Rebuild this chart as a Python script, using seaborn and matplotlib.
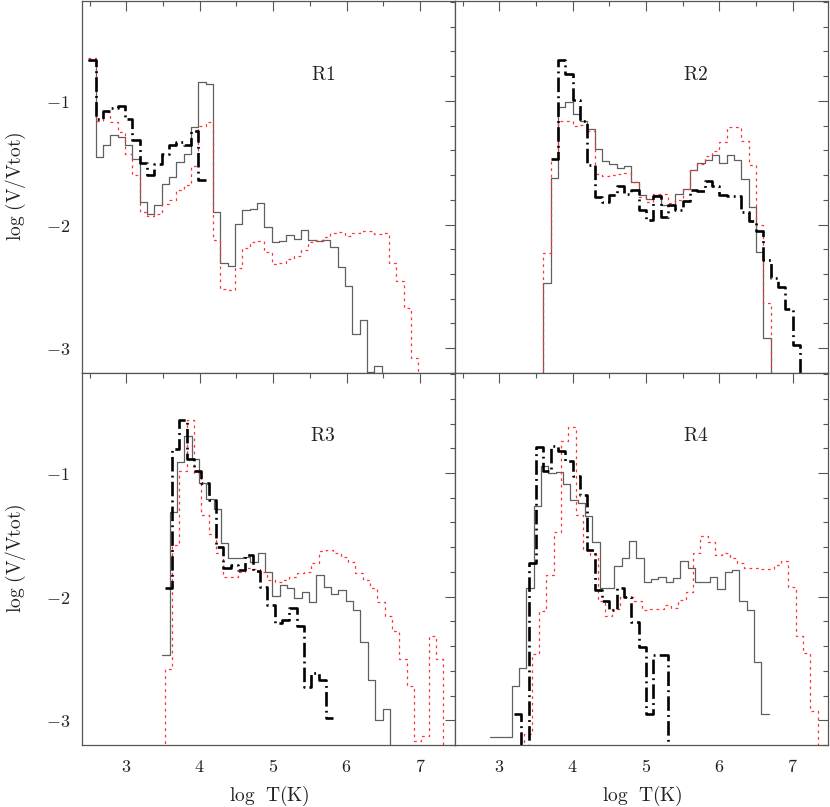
import numpy as np
import pandas as pd
import matplotlib
matplotlib.use('Agg')
import matplotlib.pyplot as plt
from matplotlib.ticker import MultipleLocator, FuncFormatter
import seaborn as sns

BIN = 0.1
BELOW = -3.6  # bin value that falls under the plotted range

# R1: bin start (log T) and log(V/Vtot) per 0.1 dex bin
r1_gray_start = 2.48
r1_gray = [-0.67, -1.455, -1.356, -1.276, -1.295, -1.36, -1.47, -1.818, -1.911, -1.845,
           -1.67, -1.617, -1.496, -1.43, -1.209, -0.844, -0.866, -1.898, -2.314, -2.335,
           -1.992, -1.879, -1.871, -1.826, -2.019, -2.145, -2.134, -2.081, -2.113, -2.04,
           -2.121, -2.129, -2.121, -2.185, -2.346, -2.496, -2.885, -2.775, -3.19, -3.145, BELOW]
r1_red_start = 2.48
r1_red = [-0.656, -1.16, -1.09, -1.17, -1.25, -1.43, -1.603, -1.898, -1.93, -1.911,
          -1.83, -1.804, -1.724, -1.683, -1.523, -1.2, -1.168, -2.126, -2.523, -2.528,
          -2.354, -2.193, -2.14, -2.131, -2.22, -2.322, -2.309, -2.282, -2.255, -2.207,
          -2.14, -2.126, -2.1, -2.065, -2.059, -2.091, -2.065, -2.054, -2.054, -2.073,
          -2.065, -2.314, -2.453, -2.676, -3.078, BELOW]
r1_black_start = 2.48
r1_black = [-0.665, -1.147, -1.085, -1.06, -1.04, -1.147, -1.316, -1.50, -1.603, -1.51,
            -1.43, -1.36, -1.33, -1.36, -1.24, -1.643]

# R2
r2_gray_start = 3.5
r2_gray = [BELOW, -2.475, -1.622, -1.053, -1.005, -1.102, -1.161, -1.228, -1.389, -1.483,
           -1.509, -1.542, -1.528, -1.657, -1.764, -1.796, -1.764, -1.845, -1.84, -1.75,
           -1.711, -1.558, -1.502, -1.477, -1.437, -1.502, -1.437, -1.477, -1.63, -1.858,
           -2.22, -2.917, BELOW]
r2_red_start = 3.5
r2_red = [BELOW, -2.228, -1.469, -1.166, -1.161, -1.201, -1.193, -1.241, -1.59, -1.611,
          -1.603, -1.595, -1.584, -1.657, -1.78, -1.818, -1.756, -1.756, -1.826, -1.80,
          -1.711, -1.56, -1.51, -1.443, -1.402, -1.335, -1.209, -1.209, -1.322, -1.518,
          -2.006, -2.636, BELOW]
r2_black_start = 3.7
r2_black = [-1.469, -0.665, -0.78, -0.995, -1.161, -1.517, -1.778, -1.818, -1.764, -1.684,
            -1.756, -1.719, -1.88, -1.96, -1.77, -1.938, -1.839, -1.88, -1.81, -1.724,
            -1.732, -1.644, -1.684, -1.764, -1.772, -1.772, -1.898, -1.971, -2.051, -2.287,
            -2.429, -2.507, -2.684, -2.971, BELOW]

# R3
r3_gray_start = 3.49
r3_gray = [-2.474, -1.315, -0.913, -0.698, -0.886, -1.079, -1.208, -1.294, -1.565, -1.691,
           -1.691, -1.677, -1.718, -1.645, -1.803, -1.994, -1.905, -1.927, -2.007, -1.964,
           -2.047, -1.825, -1.924, -1.977, -1.945, -2.039, -2.106, -2.366, -2.677, -2.999,
           -2.905, BELOW]
r3_red_start = 3.42
r3_red = [BELOW, -2.589, -1.583, -0.98, -0.57, -1.0, -1.337, -1.49, -1.645, -1.844,
          -1.844, -1.798, -1.771, -1.779, -1.798, -1.865, -1.878, -1.865, -1.838, -1.811,
          -1.80, -1.731, -1.629, -1.624, -1.645, -1.683, -1.723, -1.806, -1.865, -1.932,
          -2.047, -2.154, -2.28, -2.508, -2.723, -3.165, -3.125, -2.321, -2.503, BELOW]
r3_black_start = 3.52
r3_black = [-1.932, -0.806, -0.57, -0.886, -0.98, -1.082, -1.216, -1.597, -1.766, -1.744,
            -1.784, -1.664, -1.79, -1.918, -2.066, -2.213, -2.187, -2.088, -2.235, -2.731,
            -2.621, -2.675, -2.978]

# R4
r4_gray_start = 2.87
r4_gray = [-3.133, -3.133, -3.133, -2.723, -2.581, -1.927, -1.267, -0.94, -0.999, -0.993,
           -1.087, -1.221, -1.24, -1.35, -1.556, -1.932, -1.927, -1.75, -1.685, -1.546,
           -1.685, -1.884, -1.859, -1.838, -1.878, -1.851, -1.712, -1.771, -1.878, -1.884,
           -1.838, -1.94, -1.803, -1.784, -2.039, -2.106, -2.527, -2.951]
r4_red_start = 3.24
r4_red = [BELOW, -3.11, -2.463, -2.114, -1.825, -1.476, -0.738, -0.631, -1.34, -1.624,
          -1.66, -2.039, -2.16, -2.10, -1.999, -1.999, -2.039, -2.106, -2.1, -2.098,
          -2.066, -2.093, -2.026, -1.959, -1.65, -1.511, -1.556, -1.664, -1.65, -1.69,
          -1.731, -1.766, -1.771, -1.779, -1.779, -1.744, -1.712, -1.918, -2.315, -2.455,
          -2.924, BELOW]
r4_black_start = 3.2
r4_black = [-2.951, BELOW, -1.731, -0.792, -0.98, -0.779, -0.819, -0.9, -1.02, -1.181,
            -1.624, -1.945, -2.039, -2.106, -1.932, -1.999, -2.205, -2.407, -2.951, -2.468,
            -2.468, BELOW]

panel_names = ['R1', 'R2', 'R3', 'R4']


def step_frame(start, values):
    x = start + BIN * np.arange(len(values) + 1)
    y = list(values) + [values[-1]]
    return pd.DataFrame({'logT': x, 'logV': y})


def draw_series(ax, start, values, color, lw, dashes=None):
    sns.lineplot(
        data=step_frame(start, values),
        x='logT', y='logV',
        ax=ax,
        estimator=None,
        sort=False,
        drawstyle='steps-post',
        color=color,
        linewidth=lw,
    )
    line = ax.lines[-1]
    if dashes is not None:
        line.set_dashes(dashes)


def style_axes(ax):
    ax.set_xlim(2.4, 7.48)
    ax.set_ylim(-3.2, -0.19)
    ax.xaxis.set_major_locator(MultipleLocator(1))
    ax.xaxis.set_minor_locator(MultipleLocator(0.5))
    ax.yaxis.set_major_locator(MultipleLocator(1))
    ax.yaxis.set_minor_locator(MultipleLocator(0.2))
    fmt = FuncFormatter(lambda v, p: f'${v:g}$')
    ax.xaxis.set_major_formatter(fmt)
    ax.yaxis.set_major_formatter(fmt)
    ax.tick_params(which='both', direction='in', top=True, right=True,
                   color='#555555', labelsize=13, labelcolor='#222222')
    ax.tick_params(which='major', length=7.2, width=0.8)
    ax.tick_params(which='minor', length=3.6, width=0.8)
    ax.tick_params(axis='x', pad=9)
    ax.tick_params(axis='y', pad=9)
    for side in ['bottom', 'top', 'left', 'right']:
        ax.spines[side].set_color('#555555')
        ax.spines[side].set_linewidth(0.9)
    ax.set_xlabel('')
    ax.set_ylabel('')
    ax.grid(False)


sns.set_style('white')
plt.rcParams['mathtext.fontset'] = 'cm'
plt.rcParams['font.family'] = ['DejaVu Serif']

fig, axs = plt.subplots(2, 2, figsize=(8.3, 8.07), dpi=100, sharex=True, sharey=True)
plt.subplots_adjust(left=0.0992, right=0.9976, top=0.999, bottom=0.0768,
                    hspace=0, wspace=0)

panels = [
    (r1_gray_start, r1_gray, r1_red_start, r1_red, r1_black_start, r1_black),
    (r2_gray_start, r2_gray, r2_red_start, r2_red, r2_black_start, r2_black),
    (r3_gray_start, r3_gray, r3_red_start, r3_red, r3_black_start, r3_black),
    (r4_gray_start, r4_gray, r4_red_start, r4_red, r4_black_start, r4_black),
]
label_y = [0.80, 0.80, 0.83, 0.83]

for i, ax in enumerate(axs.flat):
    gs, gv, rs, rv, bs, bv = panels[i]
    draw_series(ax, gs, gv, '#606060', 0.9)
    draw_series(ax, rs, rv, '#ff3333', 0.9, dashes=(2.2, 3.0))
    draw_series(ax, bs, bv, 'black', 1.9, dashes=(5.5, 1.6, 0.7, 1.6))
    style_axes(ax)
    ax.text(0.645, label_y[i], rf'$\mathrm{{{panel_names[i]}}}$', transform=ax.transAxes,
            ha='center', va='center', fontsize=14, color='#222222')

# axis titles placed in figure pixels so they sit where the reference has them
W, H = 830, 807
for yc in [186, 558]:
    fig.text(16 / W, 1 - yc / H, r'$\mathrm{log\ (V/Vtot)}$', rotation=90,
             ha='center', va='center', fontsize=14, color='#222222')
for xc in [269, 642]:
    fig.text(xc / W, 1 - 796 / H, r'$\mathrm{log\ \ T(K)}$',
             ha='center', va='center', fontsize=14, color='#222222')

fig.savefig('out.png', dpi=100)
